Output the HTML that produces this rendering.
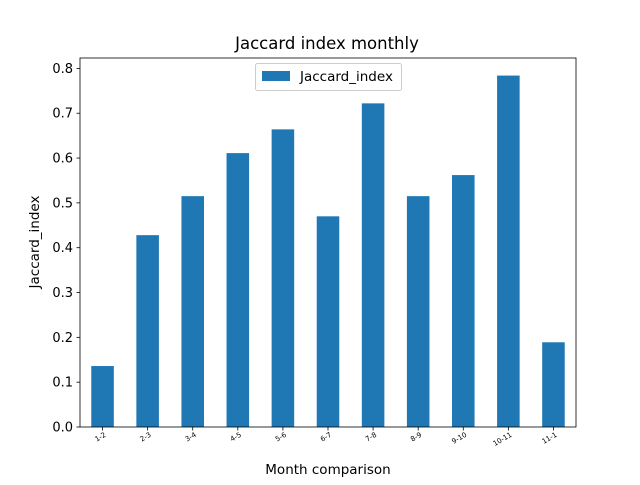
<!DOCTYPE html>
<html><head><meta charset="utf-8"><style>
body{margin:0;background:#fff;}
svg text{font-family:"DejaVu Sans","Liberation Sans",sans-serif;fill:#000;}
</style></head><body>
<svg id="chart" width="640" height="480" viewBox="0 0 640 480" xmlns="http://www.w3.org/2000/svg">
<rect width="640" height="480" fill="#fff"/>
<text x="327" y="49" font-size="16.5" text-anchor="middle">Jaccard index monthly</text>
<text x="328" y="474" font-size="13.5" text-anchor="middle">Month comparison</text>
<text transform="translate(39,242) rotate(-90)" font-size="13.5" text-anchor="middle">Jaccard_index</text>
<g id="bars"></g><g id="xticks"></g><g id="yticks"></g>
<rect x="80" y="58" width="496" height="369" fill="none" stroke="#000" stroke-width="0.8"/>
<g>
<rect x="255.5" y="63.5" width="146" height="27" rx="2" fill="#fff" stroke="#ccc"/>
<rect x="262" y="71" width="28" height="10" fill="#1f77b4"/>
<text x="300" y="81" font-size="13.5">Jaccard_index</text>
</g>
</svg>
<script>
const categories=["1-2","2-3","3-4","4-5","5-6","6-7","7-8","8-9","9-10","10-11","11-1"];
const values=[0.136,0.428,0.515,0.611,0.664,0.470,0.722,0.515,0.562,0.784,0.189];
const yTicks=[0,0.1,0.2,0.3,0.4,0.5,0.6,0.7,0.8];
const yTickLabels=["0.0","0.1","0.2","0.3","0.4","0.5","0.6","0.7","0.8"];
const NS="http://www.w3.org/2000/svg";
const L=80,R=576,T=58,B=427,yMax=0.8232;
const xs=i=>L+(i+0.5)*(R-L)/categories.length;
const ys=v=>B-v/yMax*(B-T);
const bw=0.5*(R-L)/categories.length;
function mk(t,a,p){const e=document.createElementNS(NS,t);for(const k in a)e.setAttribute(k,a[k]);p.appendChild(e);return e;}
const gb=document.getElementById('bars'),gx=document.getElementById('xticks'),gy=document.getElementById('yticks');
values.forEach((v,i)=>{
 const r=mk('rect',{x:xs(i)-bw/2,y:ys(v),width:bw,height:ys(0)-ys(v),fill:'#1f77b4'},gb);
 
 
});
categories.forEach((c,i)=>{
 const x=xs(i);
 const l=mk('line',{x1:x,x2:x,y1:B,y2:B+3.5,stroke:'#000','stroke-width':0.8},gx);
 
 
 const t=mk('text',{'font-size':7,'text-anchor':'end',transform:`translate(${x+4},${B+9}) rotate(-30)`},gx);
 t.textContent=c;
 
 
});
yTicks.forEach((v,i)=>{
 const y=ys(v);
 const l=mk('line',{x1:L-3.5,x2:L,y1:y,y2:y,stroke:'#000','stroke-width':0.8},gy);
 
 
 const t=mk('text',{x:L-7,y:y+4.5,'font-size':13,'text-anchor':'end'},gy);
 t.textContent=yTickLabels[i];
 
 
});
</script>
</body></html>
